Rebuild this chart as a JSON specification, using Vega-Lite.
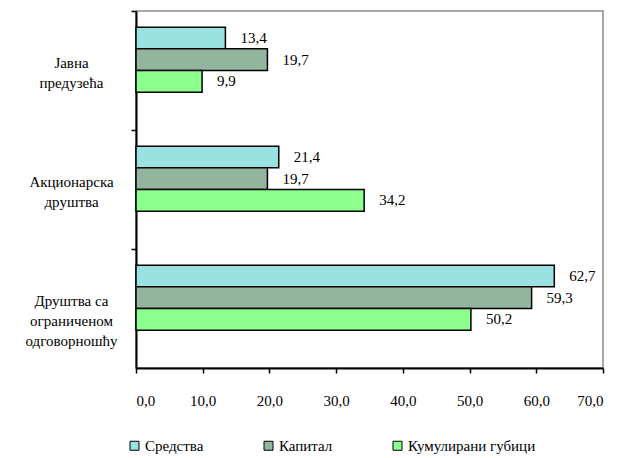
{
  "$schema": "https://vega.github.io/schema/vega-lite/v6.json",
  "autosize": "none",
  "width": 467,
  "height": 357,
  "padding": {"left": 136, "top": 11, "right": 21, "bottom": 90},
  "config": {
    "font": "Liberation Serif",
    "view": {"stroke": "#8c8c8c", "strokeWidth": 1.5}
  },
  "data": {
    "values": [
      {"category": "Јавна\nпредузећа", "series": "Средства", "value": 13.4},
      {"category": "Јавна\nпредузећа", "series": "Капитал", "value": 19.7},
      {"category": "Јавна\nпредузећа", "series": "Кумулирани губици", "value": 9.9},
      {"category": "Акционарска\nдруштва", "series": "Средства", "value": 21.4},
      {"category": "Акционарска\nдруштва", "series": "Капитал", "value": 19.7},
      {"category": "Акционарска\nдруштва", "series": "Кумулирани губици", "value": 34.2},
      {"category": "Друштва са\nограниченом\nодговорношћу", "series": "Средства", "value": 62.7},
      {"category": "Друштва са\nограниченом\nодговорношћу", "series": "Капитал", "value": 59.3},
      {"category": "Друштва са\nограниченом\nодговорношћу", "series": "Кумулирани губици", "value": 50.2}
    ]
  },
  "encoding": {
    "y": {
      "field": "category",
      "type": "nominal",
      "sort": null,
      "scale": {"paddingInner": 0, "paddingOuter": 0},
      "axis": {
        "title": null,
        "labelExpr": "split(datum.label, '\\n')",
        "labelAlign": "center",
        "labelBaseline": "middle",
        "labelPadding": 60,
        "labelFont": "Liberation Serif",
        "labelFontSize": 15,
        "labelLineHeight": 20,
        "labelColor": "black",
        "tickOffset": -59.5,
        "labelOffset": 51,
        "tickSize": 5,
        "tickColor": "black",
        "tickWidth": 1.5,
        "domainColor": "black",
        "domainWidth": 2
      }
    },
    "yOffset": {
      "field": "series",
      "type": "nominal",
      "scale": {"domain": ["Средства", "Капитал", "Кумулирани губици", "_"], "paddingInner": 0, "paddingOuter": 0.75}
    },
    "x": {
      "field": "value",
      "type": "quantitative",
      "scale": {"domain": [0, 70], "nice": false},
      "axis": {
        "title": null,
        "values": [0, 10, 20, 30, 40, 50, 60, 70],
        "labelExpr": "replace(format(datum.value, '.1f'), '.', ',')",
        "grid": false,
        "labelFont": "Liberation Serif",
        "labelFontSize": 15,
        "labelColor": "black",
        "labelPadding": 20,
        "tickSize": 5,
        "tickColor": "black",
        "tickWidth": 1.5,
        "domainColor": "black",
        "domainWidth": 2
      }
    }
  },
  "layer": [
    {
      "mark": {"type": "bar", "stroke": "black", "strokeWidth": 1.5},
      "encoding": {
        "fill": {
          "field": "series",
          "type": "nominal",
          "scale": {"domain": ["Средства", "Капитал", "Кумулирани губици"], "range": ["#9ae2e2", "#93b59e", "#8dff8d"]},
          "legend": {
            "title": null,
            "orient": "none",
            "direction": "horizontal",
            "columns": 3,
            "gridAlign": "each",
            "columnPadding": 57,
            "legendX": -9,
            "legendY": 427,
            "symbolType": "square",
            "symbolSize": 81,
            "symbolStrokeColor": "black",
            "symbolStrokeWidth": 1,
            "symbolOffset": 0,
            "labelFont": "Liberation Serif",
            "labelFontSize": 15,
            "labelColor": "black",
            "labelOffset": 3
          }
        }
      }
    },
    {
      "transform": [{"calculate": "replace(format(datum.value, '.1f'), '.', ',')", "as": "label"}],
      "mark": {"type": "text", "align": "left", "baseline": "middle", "dx": 15, "fontSize": 15, "color": "black", "font": "Liberation Serif"},
      "encoding": {
        "text": {"field": "label", "type": "nominal"}
      }
    }
  ]
}
